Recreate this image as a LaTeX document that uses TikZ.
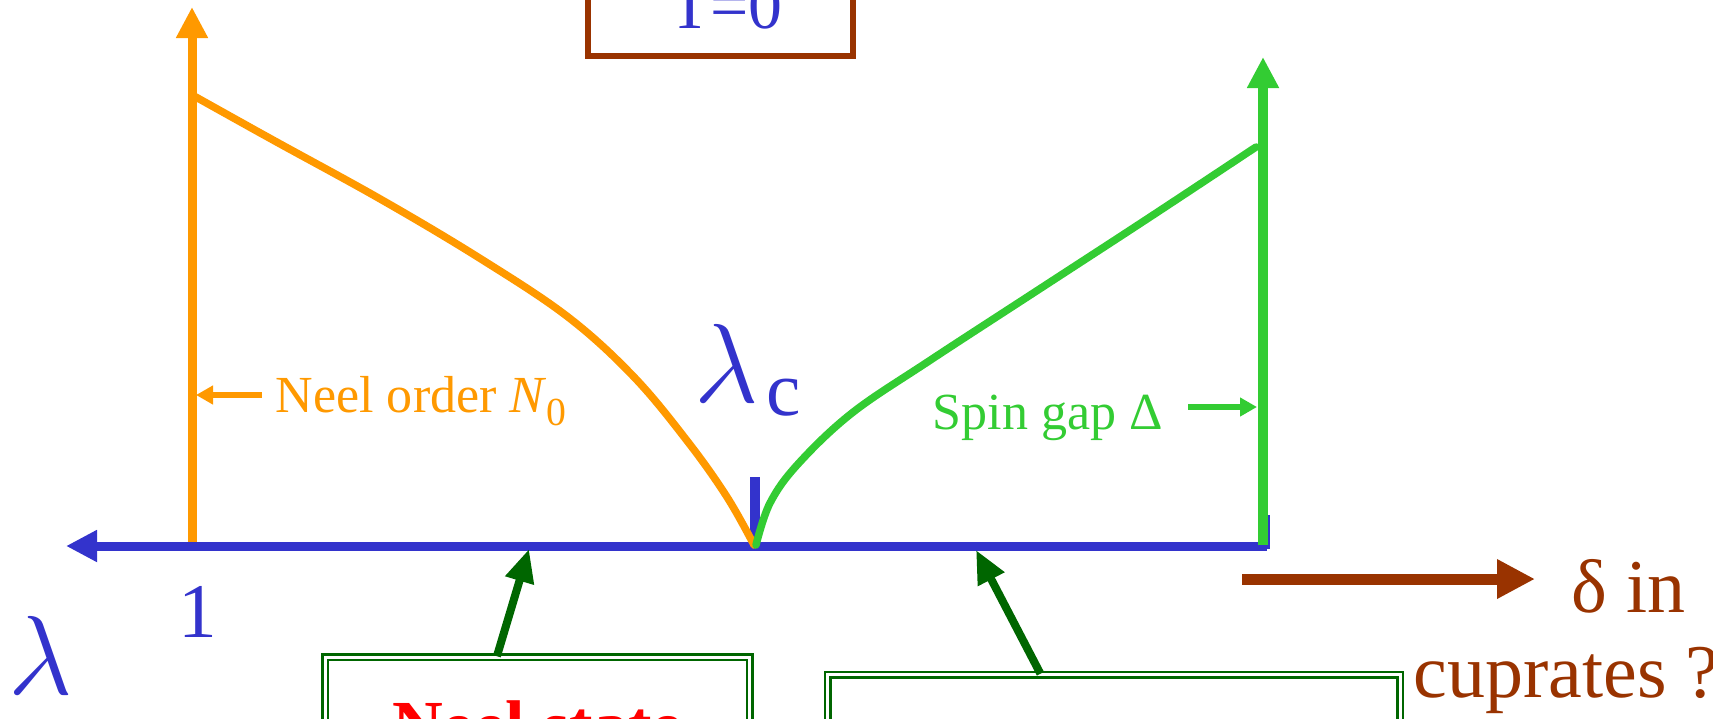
\RequirePackage{fix-cm}
\documentclass[tikz,border=0pt]{standalone}
\usepackage{fontspec}
\setmainfont{Liberation Serif}
\usepackage{tikz}
\usetikzlibrary{arrows.meta,calc}
\definecolor{neelor}{HTML}{FF9900}
\definecolor{axisblue}{HTML}{3333CC}
\definecolor{gapgreen}{HTML}{33CC33}
\definecolor{dopebrown}{HTML}{993300}
\definecolor{boxgreen}{HTML}{006600}
\definecolor{statered}{HTML}{FF0000}

\begin{document}
\begin{tikzpicture}[x=0.01cm, y=-0.01cm,
  axis/.style={line width=0.09cm},
  curve/.style={line width=0.075cm, line cap=round},
  bigtip/.style={-{Triangle[length=0.31cm, width=0.30cm]}},
  smalltip/.style={-{Triangle[length=0.17cm, width=0.18cm]}},
  lbl/.style={inner sep=0pt, font=\fontsize{14.8}{16}\selectfont},
  sym/.style={inner sep=0pt, text=axisblue},
  statebox/.style={draw=boxgreen, line width=0.025cm, double=white, double distance=0.03cm, align=center, text=statered, font=\fontsize{20}{22}\selectfont\bfseries},
  pointer/.style={boxgreen, line width=0.08cm, -{Triangle[length=0.33cm, width=0.28cm]}}
]
\useasboundingbox (0,0) rectangle (1713,718);
\clip (0,0) rectangle (1713,718);

% ---- T=0 box ----
\node[draw=dopebrown, line width=0.06cm, minimum width=2.65cm, minimum height=1.8cm] (tbox) at (720.5,-34) {};
\node[sym, anchor=base, font=\fontsize{19.3}{20}\selectfont] (tzero) at (726,28) {T=0};

% ---- axes ----
\coordinate (lamend) at (66,546);
\coordinate (axisR) at (1267,546);
\coordinate (neelbot) at (192,549);
\coordinate (neeltop) at (192,7);
\coordinate (gapbot) at (1263,545);
\coordinate (gaptop) at (1263,57);

\draw[axisblue, line width=0.11cm] (1264,515) -- (1264,549);
\draw[neelor, axis, bigtip] (neelbot) -- (neeltop);
\draw[axisblue, axis, {Triangle[length=0.31cm, width=0.30cm]}-] (lamend) -- (axisR);
\draw[gapgreen, line width=0.1cm, bigtip] (gapbot) -- (gaptop);
\draw[axisblue, line width=0.1cm] (755,477) -- (755,546);

% ---- order parameter and gap ----
\draw[neelor, curve] plot[smooth, tension=0.6] coordinates {(194,96) (273,140) (382,200) (481,259) (568,317) (634,377) (688,442) (727,497) (754,545)};
\draw[gapgreen, curve] plot[smooth, tension=0.6] coordinates {(756,545) (770,503) (798,464) (852,413) (929,361) (1038,290) (1147,219) (1256,147)};

% ---- labels ----
\node[lbl, anchor=base west, text=neelor] (neellab) at (275,412) {Neel order \textit{N}\raisebox{-0.25em}{\fontsize{11.3}{12}\selectfont 0}};
\coordinate (neelfoot) at (262,395);
\coordinate (neelhead) at (196,395);
\draw[neelor, line width=0.065cm, smalltip] (neelfoot) -- (neelhead);

\node[lbl, anchor=base west, text=gapgreen] (gaplab) at (932,429) {Spin gap Δ};
\coordinate (gapfoot) at (1188,407);
\coordinate (gaphead) at (1257,407);
\draw[gapgreen, line width=0.065cm, smalltip] (gapfoot) -- (gaphead);

\node[sym, anchor=base, font=\fontsize{22}{24}\selectfont] (one) at (198,637) {1};
\node[sym, anchor=base west, font=\fontsize{32}{34}\selectfont] (lam) at (8,694) {$\lambda$};
\node[sym, anchor=base west, font=\fontsize{32}{34}\selectfont] (lamc) at (694,402) {$\lambda$\hspace{0.08cm}\raisebox{-0.13cm}{\fontsize{22}{24}\selectfont c}};

% ---- doping ----
\coordinate (dopefoot) at (1242,579);
\coordinate (dopehead) at (1535,579);
\draw[dopebrown, line width=0.11cm, -{Triangle[length=0.38cm, width=0.37cm]}] (dopefoot) -- (dopehead);
\node[inner sep=0pt, anchor=base west, text=dopebrown, font=\fontsize{21.6}{24}\selectfont] (dopeA) at (1571,612) {δ in};
\node[inner sep=0pt, anchor=base west, text=dopebrown, font=\fontsize{21.6}{24}\selectfont] (dopeB) at (1413,697) {cuprates ?};

% ---- states ----
\coordinate (neeltip) at (529,549);
\coordinate (gaptip) at (976,550);
\node[statebox, minimum width=4.245cm, minimum height=1.35cm] (neelbox) at (537.5,725) {Neel state};
\node[statebox, minimum width=5.72cm, minimum height=1.35cm] (gapbox) at (1114,742.5) {};
\draw[pointer] ($(neelbox.north west)!0.405!(neelbox.north east)$) -- (neeltip);
\draw[pointer] ($(gapbox.north west)!0.372!(gapbox.north east)$) -- (gaptip);

\end{tikzpicture}
\end{document}
